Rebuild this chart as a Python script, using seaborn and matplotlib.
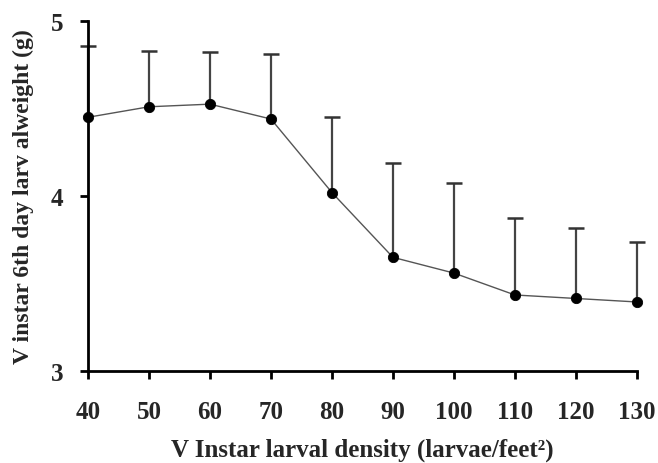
import matplotlib
matplotlib.use("Agg")
import matplotlib.pyplot as plt
import seaborn as sns
import numpy as np
import pandas as pd

density = [40, 50, 60, 70, 80, 90, 100, 110, 120, 130]
weight = [4.45, 4.51, 4.525, 4.44, 4.02, 3.65, 3.56, 3.435, 3.415, 3.395]
err_top = [4.857, 4.83, 4.823, 4.81, 4.45, 4.19, 4.075, 3.876, 3.82, 3.735]
x_ticks = [40, 50, 60, 70, 80, 90, 100, 110, 120, 130]
y_ticks = [3, 4, 5]

sns.set_style("white")
plt.rcParams['font.family'] = ['Liberation Serif', 'DejaVu Serif']
plt.rcParams['font.weight'] = 'bold'

df = pd.DataFrame({"density": density, "weight": weight, "top": err_top})

fig = plt.figure(figsize=(6.58, 4.64), dpi=100)
ax = fig.add_axes([0.1337, 0.198, 0.968 - 0.1337, 0.9526 - 0.198])

# upper-only error bars
ax.vlines(df["density"], df["weight"], df["top"], colors='#444444', lw=1.6,
          zorder=2, clip_on=False)
ax.scatter(df["density"], df["top"], marker='_', s=120, color='#333333',
           linewidths=1.8, zorder=2, clip_on=False)
sns.lineplot(data=df, x="density", y="weight", ax=ax, color='#555555', lw=1.0,
             zorder=3, clip_on=False)
sns.scatterplot(data=df, x="density", y="weight", ax=ax, color='black', s=55,
                edgecolor='black', zorder=4, clip_on=False)

ax.set_xlim(40, 130)
ax.set_ylim(3, 5)
ax.set_xticks(x_ticks)
ax.set_yticks(y_ticks)
ax.set_xticklabels([str(v) for v in x_ticks], fontsize=18, fontweight='bold')
ax.set_yticklabels([str(v) for v in y_ticks], fontsize=18, fontweight='bold')
ax.tick_params(axis='both', direction='out', length=6, width=2, color='black')
ax.tick_params(axis='x', pad=15)
ax.tick_params(axis='y', pad=12)
ax.xaxis.set_ticks_position('bottom')
ax.yaxis.set_ticks_position('left')

for s in ['top', 'right']:
    ax.spines[s].set_visible(False)
for s in ['left', 'bottom']:
    ax.spines[s].set_linewidth(2)
    ax.spines[s].set_color('black')

ax.set_xlabel("V Instar larval density (larvae/feet²)", fontsize=18, fontweight='bold', labelpad=10)
ax.set_ylabel("V instar 6th day larv alweight (g)", fontsize=17, fontweight='bold', labelpad=12)

fig.savefig("out.png", dpi=100)
